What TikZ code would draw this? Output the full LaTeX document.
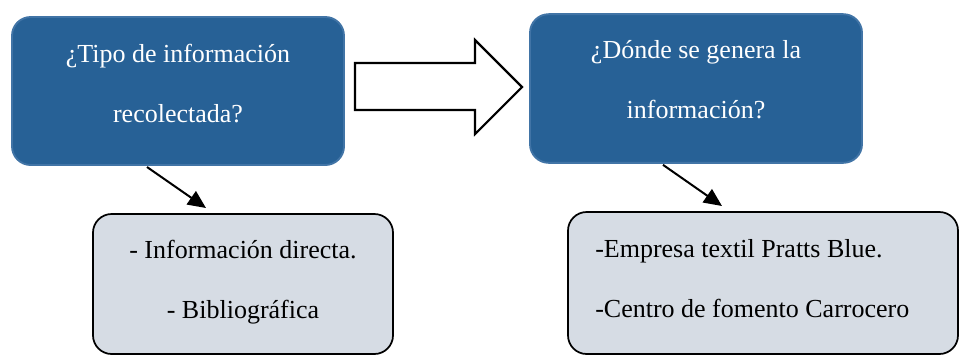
\documentclass[tikz,border=0pt]{standalone}
\usepackage{fontspec}
\setmainfont{Liberation Serif}
\usetikzlibrary{arrows.meta,calc}
\definecolor{boxblue}{HTML}{276196}
\definecolor{boxblueedge}{HTML}{4174A6}
\definecolor{boxgray}{HTML}{D6DCE4}
\tikzset{
  bluebox/.style={draw=boxblueedge, line width=1.4pt, fill=boxblue, rounded corners=14pt, inner sep=0pt, outer sep=0pt},
  graybox/.style={draw=black, line width=1.3pt, fill=boxgray, rounded corners=14pt, inner sep=0pt, outer sep=0pt},
  wtxt/.style={text=white, font=\fontsize{19.5pt}{23pt}\selectfont, inner sep=0pt, anchor=base},
  btxt/.style={text=black, font=\fontsize{19.5pt}{23pt}\selectfont, inner sep=0pt, anchor=base},
  conn/.style={line width=1.5pt, -{Triangle[length=13.5pt,width=12pt]}},
  bigarrow/.style={draw=black, line width=1.6pt, fill=white, line join=miter}
}
\begin{document}
\begin{tikzpicture}[x=0.75pt, y=-0.75pt]
\useasboundingbox (0,0) rectangle (960,355);
% boxes
\node[bluebox, minimum width=249pt, minimum height=111pt] (b1) at (178,91) {};
\node[bluebox, minimum width=249pt, minimum height=111.5pt] (b2) at (696,88.5) {};
\node[graybox, minimum width=225pt, minimum height=105pt] (g1) at (243,284) {};
\node[graybox, minimum width=292.5pt, minimum height=106.5pt] (g2) at (763,283) {};
% texts
\node[wtxt] (t1a) at (178,62) {¿Tipo de información};
\node[wtxt] (t1b) at (178,122) {recolectada?};
\node[wtxt] (t2a) at (696,58) {¿Dónde se genera la};
\node[wtxt] (t2b) at (696,118) {información?};
\node[btxt] (t3a) at (243,258) {- Información directa.};
\node[btxt] (t3b) at (243,318) {- Bibliográfica};
\node[btxt, anchor=base west] (t4a) at (595,257) {-Empresa textil Pratts Blue.};
\node[btxt, anchor=base west] (t4b) at (595,317) {-Centro de fomento Carrocero};
% big hollow arrow
\draw[bigarrow] (355,63) -- (475,63) -- (475,40) -- (522,87) -- (475,134) -- (475,110) -- (355,110) -- cycle;
% connectors
\coordinate (a1s) at ($(b1.south west)+(135,2)$);
\coordinate (a1e) at ($(g1.north west)+(113,-6)$);
\draw[conn] (a1s) -- (a1e);
\coordinate (a2s) at ($(b2.south west)+(133,2)$);
\coordinate (a2e) at ($(g2.north west)+(154,-6)$);
\draw[conn] (a2s) -- (a2e);
\end{tikzpicture}
\end{document}
